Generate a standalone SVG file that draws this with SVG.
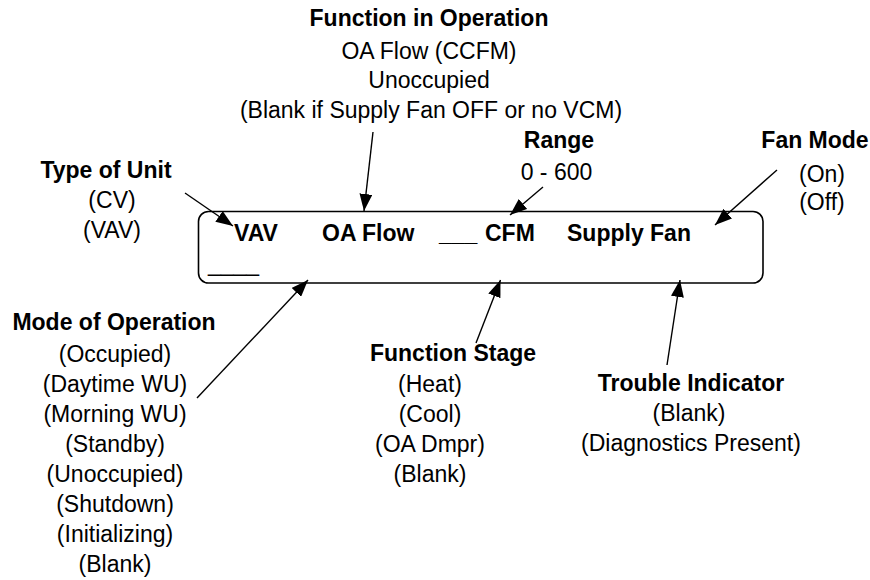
<svg xmlns="http://www.w3.org/2000/svg" width="870" height="580" viewBox="0 0 870 580">
<defs>
<marker id="ah" markerUnits="userSpaceOnUse" markerWidth="18" markerHeight="13" refX="17" refY="6.5" orient="auto">
<path d="M0,0 L17,6.5 L0,13 Z" fill="#000"/>
</marker>
<style>
text{font-family:"Liberation Sans",Arial,sans-serif;font-size:23px;fill:#000}
.b{font-weight:bold}
.m{text-anchor:middle}
.c{stroke:#000;stroke-width:1.4;fill:none;marker-end:url(#ah)}
</style>
</defs>
<rect width="870" height="580" fill="#fff"/>
<g id="display">
<rect x="198.5" y="211.5" width="564.5" height="71.5" rx="10" ry="10" fill="none" stroke="#000" stroke-width="1.6"/>
<text class="b" x="234" y="241">VAV</text>
<text class="b" x="322" y="241">OA Flow</text>
<text class="b" x="439" y="241">___</text>
<text class="b" x="485" y="241">CFM</text>
<text class="b" x="567" y="241">Supply Fan</text>
<text x="208" y="271">____</text>
</g>
<g id="function-in-operation">
<text class="b m" x="429" y="26">Function in Operation</text>
<text class="m" x="429" y="59">OA Flow (CCFM)</text>
<text class="m" x="429" y="88">Unoccupied</text>
<text class="m" x="431" y="118">(Blank if Supply Fan OFF or no VCM)</text>
</g>
<g id="range">
<text class="b m" x="559" y="148">Range</text>
<text class="m" x="556.5" y="180">0 - 600</text>
</g>
<g id="fan-mode">
<text class="b m" x="815" y="147.5">Fan Mode</text>
<text class="m" x="822" y="182">(On)</text>
<text class="m" x="822" y="210">(Off)</text>
</g>
<g id="type-of-unit">
<text class="b m" x="106" y="178">Type of Unit</text>
<text class="m" x="112" y="208">(CV)</text>
<text class="m" x="112" y="237.5">(VAV)</text>
</g>
<g id="mode-of-operation">
<text class="b m" x="114" y="330">Mode of Operation</text>
<text class="m" x="115" y="362">(Occupied)</text>
<text class="m" x="115" y="392">(Daytime WU)</text>
<text class="m" x="115" y="422">(Morning WU)</text>
<text class="m" x="115" y="452">(Standby)</text>
<text class="m" x="115" y="482">(Unoccupied)</text>
<text class="m" x="115" y="512">(Shutdown)</text>
<text class="m" x="115" y="542">(Initializing)</text>
<text class="m" x="115" y="572">(Blank)</text>
</g>
<g id="function-stage">
<text class="b m" x="453" y="361">Function Stage</text>
<text class="m" x="430" y="392">(Heat)</text>
<text class="m" x="430" y="422">(Cool)</text>
<text class="m" x="430" y="452">(OA Dmpr)</text>
<text class="m" x="430" y="482">(Blank)</text>
</g>
<g id="trouble-indicator">
<text class="b m" x="691" y="391">Trouble Indicator</text>
<text class="m" x="689" y="421">(Blank)</text>
<text class="m" x="691" y="451">(Diagnostics Present)</text>
</g>
<g id="connectors">
<line class="c" x1="185" y1="193" x2="233" y2="226"/>
<line class="c" x1="373" y1="132" x2="364" y2="211"/>
<line class="c" x1="543" y1="187" x2="510" y2="215"/>
<line class="c" x1="777" y1="170" x2="715" y2="225"/>
<line class="c" x1="197" y1="398" x2="308" y2="280"/>
<line class="c" x1="476" y1="343" x2="500.5" y2="280"/>
<line class="c" x1="667" y1="365" x2="680" y2="280"/>
</g>
</svg>
